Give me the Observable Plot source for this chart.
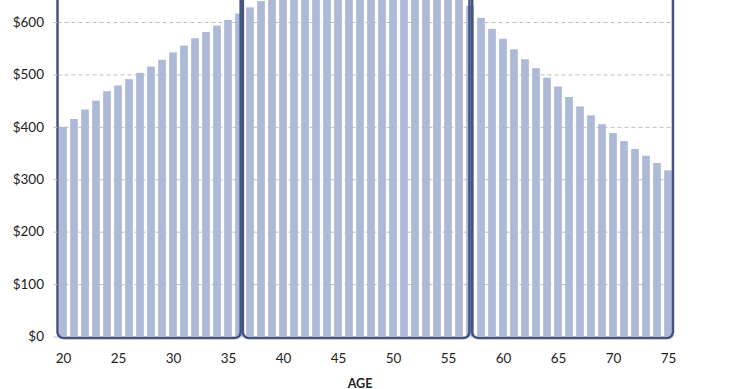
<!DOCTYPE html>
<html><head><meta charset="utf-8">
<script src="https://cdn.jsdelivr.net/npm/d3@7"></script>
<script src="https://cdn.jsdelivr.net/npm/@observablehq/plot@0.6"></script>
<style>body{margin:0;background:#fff}</style>
</head><body><div id="chart"></div>
<script>
const ages = [20,21,22,23,24,25,26,27,28,29,30,31,32,33,34,35,36,37,38,39,40,41,42,43,44,45,46,47,48,49,50,51,52,53,54,55,56,57,58,59,60,61,62,63,64,65,66,67,68,69,70,71,72,73,74,75];
const values = [400,415,433,450,468,479,491,503,515,528,542,555,569,581,593,604,616,628,640,
  652,663,673,682,690,696,700,703,704,704,702,699,695,690,684,676,667,652,
  631,608,587,568,548,529,512,494,477,457,439,422,405,388,373,358,345,331,317];
const groupFrom = [19.5, 36.35, 57.2];
const groupTo = [36.15, 56.95, 75.45];
const yTicks = [0,100,200,300,400,500,600];
const xTicks = [20,25,30,35,40,45,50,55,60,65,70,75];
const xTitle = "AGE";

const data = ages.map((a,i)=>({age:a, value:values[i]}));
const groups = groupFrom.map((f,i)=>({from:f, to:groupTo[i]}));

const chart = Plot.plot({
  width:740, height:389,
  marginLeft:57.5, marginRight:66.5, marginTop:0, marginBottom:52.5,
  style:{fontFamily:"Lato, 'Open Sans', sans-serif", fontSize:"13.5px", color:"#222", background:"#fff", overflow:"hidden"},
  x:{type:"linear", domain:[19.5,75.5], axis:null},
  y:{domain:[0,642], axis:null},
  marks:[
    Plot.gridY(yTicks.filter(d=>d>0), {stroke:"#bdbdbd", strokeOpacity:1, strokeDasharray:"4,3"}),
    Plot.rectY(data, {x1:d=>d.age-0.35, x2:d=>d.age+0.35, y:"value", fill:"#adb9d7", clip:true}),
    Plot.ruleY([0], {stroke:"#c4c4c4"}),
    Plot.rect(groups, {x1:"from", x2:"to", y1:-3, y2:680, rx:6, stroke:"#435480", strokeWidth:2.5, fill:"none"}),
    Plot.axisY(yTicks, {tickSize:4, tickPadding:10, tickFormat:d=>"$"+d, stroke:"#bdbdbd", label:null}),
    Plot.axisX(xTicks, {tickSize:0, tickPadding:16, label:null}),
    Plot.text([xTitle], {text:d=>d, frameAnchor:"bottom", dy:46.5, dx:-6, fontWeight:"bold", fontSize:12.5, lineAnchor:"middle"})
  ]
});
document.getElementById("chart").appendChild(chart);
</script>
</body></html>
